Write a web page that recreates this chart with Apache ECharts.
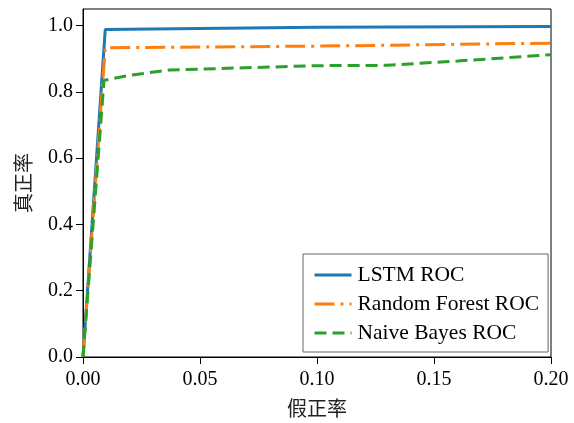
<!DOCTYPE html>
<html>
<head>
<meta charset="utf-8">
<script src="https://cdn.jsdelivr.net/npm/echarts@6/dist/echarts.min.js"></script>
<style>
    html, body {margin: 0; padding: 0; background: #fff;}
    #chart {width: 574px; height: 423px;}
</style>
</head>
<body>
<div id="chart"></div>
<script>
// ROC 曲线数据
let seriesNames = ['LSTM ROC', 'Random Forest ROC', 'Naive Bayes ROC'];

let lstmFpr = [0, 0.0095, 0.10, 0.20];
let lstmTpr = [0, 0.988, 0.995, 0.997];

let rfFpr = [0, 0.0095, 0.10, 0.20];
let rfTpr = [0, 0.933, 0.938, 0.947];

let nbFpr = [0, 0.009, 0.02, 0.037, 0.10, 0.13, 0.16, 0.20];
let nbTpr = [0, 0.835, 0.85, 0.866, 0.879, 0.88, 0.893, 0.912];

let xTicks = [0, 0.05, 0.10, 0.15, 0.20];
let yTicks = [0, 0.2, 0.4, 0.6, 0.8, 1.0];

function pairs(xs, ys) {
    return xs.map(function (x, i) { return [x, ys[i]]; });
}

let serif = 'Liberation Serif';
let cjk = 'Noto Sans CJK SC';

let roc_chart = echarts.init(document.getElementById('chart'), null, {renderer: 'canvas'});
let option = {
    animation: false,
    grid: {
        left: 83, right: 23, top: 9, bottom: 64,
        show: true, borderColor: '#000', borderWidth: 1
    },
    legend: {
        orient: 'vertical',
        left: 303, top: 254,
        padding: [10, 9, 8, 10],
        itemGap: 7,
        itemWidth: 37,
        itemHeight: 20,
        borderColor: '#666',
        borderWidth: 1,
        backgroundColor: '#fff',
        itemStyle: {opacity: 0, borderWidth: 0},
        lineStyle: {width: 3},
        textStyle: {fontFamily: serif, fontSize: 21.5, color: '#000', padding: [0, 0, 0, 1]},
        data: seriesNames
    },
    xAxis: {
        type: 'value',
        min: 0, max: 0.2, interval: 0.05,
        name: '假正率',
        nameLocation: 'middle',
        nameGap: 41,
        nameTextStyle: {fontFamily: cjk, fontSize: 20, color: '#222'},
        axisLine: {show: true, lineStyle: {color: '#000', width: 1}},
        axisTick: {show: true, inside: false, length: 7, lineStyle: {color: '#000'}, customValues: xTicks},
        axisLabel: {
            fontFamily: serif, fontSize: 20, color: '#000', margin: 13,
            customValues: xTicks,
            formatter: function (v) { return v.toFixed(2); }
        },
        splitLine: {show: false}
    },
    yAxis: {
        type: 'value',
        min: 0, max: 1.05, interval: 0.2,
        name: '真正率',
        nameLocation: 'middle',
        nameGap: 50,
        nameTextStyle: {fontFamily: cjk, fontSize: 20, color: '#222'},
        axisLine: {show: true, lineStyle: {color: '#000', width: 1}},
        axisTick: {show: true, inside: false, length: 7, lineStyle: {color: '#000'}, customValues: yTicks},
        axisLabel: {
            fontFamily: serif, fontSize: 20, color: '#000', margin: 10,
            customValues: yTicks,
            formatter: function (v) { return v.toFixed(1); }
        },
        splitLine: {show: false}
    },
    series: [
        {
            name: seriesNames[0],
            type: 'line',
            symbol: 'none',
            data: pairs(lstmFpr, lstmTpr),
            itemStyle: {color: '#1f77b4'},
            lineStyle: {color: '#1f77b4', width: 3, type: 'solid'},
            z: 3
        },
        {
            name: seriesNames[1],
            type: 'line',
            symbol: 'none',
            data: pairs(rfFpr, rfTpr),
            itemStyle: {color: '#ff7f0e'},
            lineStyle: {color: '#ff7f0e', width: 3, type: [20, 6, 3, 6]},
            z: 4
        },
        {
            name: seriesNames[2],
            type: 'line',
            symbol: 'none',
            data: pairs(nbFpr, nbTpr),
            itemStyle: {color: '#2ca02c'},
            lineStyle: {color: '#2ca02c', width: 3, type: [12, 6]},
            z: 5
        }
    ]
};
roc_chart.setOption(option);
</script>
</body>
</html>
